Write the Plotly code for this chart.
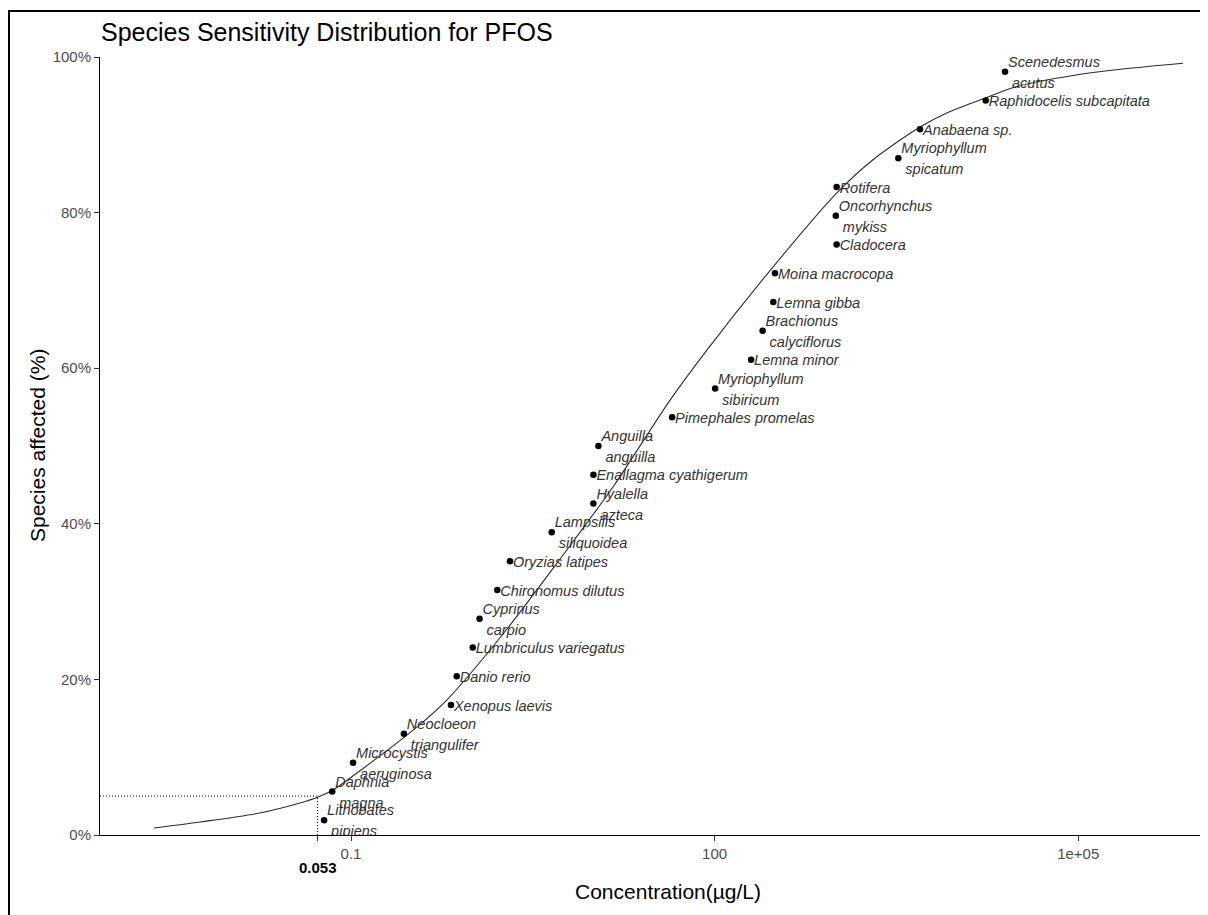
import math
import plotly.graph_objects as go

# ---------------- data ----------------
species = ["Lithobates\npipiens", "Daphnia\nmagna", "Microcystis\naeruginosa",
           "Neocloeon\ntriangulifer", "Xenopus laevis", "Danio rerio",
           "Lumbriculus variegatus", "Cyprinus\ncarpio", "Chironomus dilutus",
           "Oryzias latipes", "Lampsilis\nsiliquoidea", "Hyalella\nazteca",
           "Enallagma cyathigerum", "Anguilla\nanguilla", "Pimephales promelas",
           "Myriophyllum\nsibiricum", "Lemna minor", "Brachionus\ncalyciflorus",
           "Lemna gibba", "Moina macrocopa", "Cladocera", "Oncorhynchus\nmykiss",
           "Rotifera", "Myriophyllum\nspicatum", "Anabaena sp.",
           "Raphidocelis subcapitata", "Scenedesmus\nacutus"]
conc = [0.060, 0.070, 0.104, 0.273, 0.668, 0.745, 1.01, 1.15, 1.61, 2.05,
        4.53, 10.0, 10.0, 11.0, 44.6, 101, 200, 249, 305, 315,
        1016, 1000, 1016, 3280, 4950, 17260, 24900]
affected = [1.9, 5.6, 9.3, 13.0, 16.7, 20.4, 24.1, 27.8, 31.5, 35.2,
            38.9, 42.6, 46.3, 50.0, 53.7, 57.4, 61.1, 64.8, 68.5, 72.2,
            75.9, 79.6, 83.3, 87.0, 90.7, 94.4, 98.1]

curve_conc = [0.00237, 0.00568, 0.0177, 0.0379, 0.0535, 0.0710, 0.112, 0.351,
              0.617, 1.81, 4.98, 14.6, 42.9, 86.1, 303, 1016, 2028, 4955,
              8750, 17580, 31120, 132400, 732800]
curve_pct = [0.9, 1.67, 2.83, 4.11, 4.88, 5.78, 7.97, 13.9, 17.35, 25.9, 34.9,
             44.8, 55.9, 62.3, 73.0, 82.5, 86.8, 91.0, 93.0, 94.8, 96.2, 98.0, 99.2]

hc5 = 0.053
hc5_pct = 5
x_tick_vals = [0.053, 0.1, 100, 1e5]
x_tick_text = ["", "0.1", "100", "1e+05"]
y_tick_vals = [0, 20, 40, 60, 80, 100]
y_tick_text = ["0%", "20%", "40%", "60%", "80%", "100%"]

# ---------------- layout geometry ----------------
# the page body has an 8px margin, so the figure is placed at (8, 8)
OFF = 8
W, H = 1208 - OFF, 915 - OFF
PL, PR, PT, PB = 100, 1208, 57, 835          # panel edges in screen pixels
ML, MR, MT, MB = PL - OFF, W - (PR - OFF), PT - OFF, H - (PB - OFF)
PW, PH = PR - PL, PB - PT
x_range = [-3.071, 6.071]
y_range = [0, 100]
px_per_dec = PW / (x_range[1] - x_range[0])
px_per_pct = PH / (y_range[1] - y_range[0])


def px(sx):
    return (sx - PL) / PW


def py(sy):
    return (PB - sy) / PH


FONT = "Liberation Sans, Arial, sans-serif"

fig = go.Figure()

# fitted curve
fig.add_trace(go.Scatter(x=curve_conc, y=curve_pct, mode="lines",
                         line=dict(color="#2b2b2b", width=1.1, shape="spline", smoothing=0.8),
                         hoverinfo="skip", showlegend=False))

# HC5 guide lines
fig.add_trace(go.Scatter(x=[10 ** x_range[0], hc5], y=[hc5_pct, hc5_pct], mode="lines",
                         line=dict(color="black", width=1, dash="1px,2px"),
                         showlegend=False, hoverinfo="skip"))
fig.add_trace(go.Scatter(x=[hc5, hc5], y=[0, hc5_pct], mode="lines",
                         line=dict(color="black", width=1, dash="1px,2px"),
                         showlegend=False, hoverinfo="skip"))

# points
fig.add_trace(go.Scatter(x=conc, y=affected, mode="markers",
                         marker=dict(color="black", size=6.5),
                         showlegend=False))

# labels (text traces so they clip to the panel)
tx, ty, tt = [], [], []
for s, c, a in zip(species, conc, affected):
    lines = s.split("\n")
    if len(lines) == 1:
        offs = [(3, -2)]
    else:
        offs = [(3, 8.5), (7, -12.5)]
    for ln, (dx, dy) in zip(lines, offs):
        tx.append(c * 10 ** (dx / px_per_dec))
        ty.append(a + dy / px_per_pct)
        tt.append("<i>" + ln + "</i>")
fig.add_trace(go.Scatter(x=tx, y=ty, text=tt, mode="text", textposition="middle right",
                         textfont=dict(family=FONT, size=14.5, color="#333333"),
                         showlegend=False, hoverinfo="skip"))

annotations = [
    dict(text="<b>0.053</b>", xref="x", yref="paper", x=math.log10(hc5), y=py(868),
         showarrow=False, xanchor="center", yanchor="middle",
         font=dict(family=FONT, size=15, color="black")),
    dict(text="Concentration(µg/L)", xref="paper", yref="paper",
         x=px(668), y=py(891),
         showarrow=False, xanchor="center", yanchor="middle",
         font=dict(family=FONT, size=21, color="black")),
    dict(text="Species affected (%)", xref="paper", yref="paper",
         x=px(37), y=0.5, textangle=-90,
         showarrow=False, xanchor="center", yanchor="middle",
         font=dict(family=FONT, size=21, color="black")),
]

fig.update_layout(
    width=W, height=H,
    margin=dict(l=ML, r=MR, t=MT, b=MB),
    paper_bgcolor="white", plot_bgcolor="white",
    title=dict(text="Species Sensitivity Distribution for PFOS",
               x=(101 - OFF) / W, xanchor="left",
               xref="container", yref="container",
               y=1 - (32 - OFF) / H, yanchor="middle",
               font=dict(family=FONT, size=25, color="black")),
    annotations=annotations,
    shapes=[dict(type="rect", xref="paper", yref="paper",
                 x0=px(9), x1=px(1230), y0=py(940), y1=py(11),
                 line=dict(color="black", width=2), fillcolor="rgba(0,0,0,0)")],
    xaxis=dict(type="log", range=x_range, showgrid=False, zeroline=False,
               showline=True, linecolor="black", linewidth=1,
               ticks="outside", ticklen=5, tickcolor="#333333",
               tickvals=x_tick_vals, ticktext=x_tick_text,
               tickfont=dict(family=FONT, size=15, color="#4d4d4d")),
    yaxis=dict(range=y_range, showgrid=False, zeroline=False,
               showline=True, linecolor="black", linewidth=1,
               ticks="outside", ticklen=5, tickcolor="#333333",
               tickvals=y_tick_vals, ticktext=y_tick_text,
               tickfont=dict(family=FONT, size=15, color="#4d4d4d")),
)

fig.write_html("out.html")
